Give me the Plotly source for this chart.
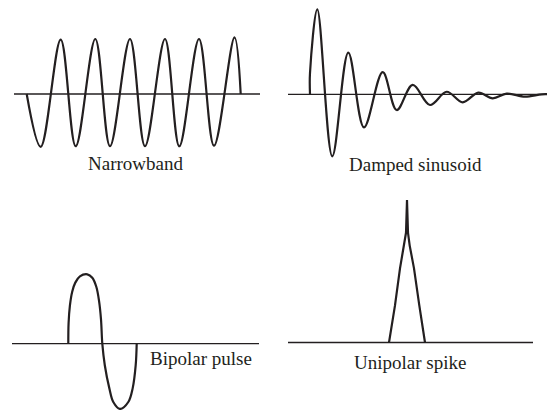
import plotly.graph_objects as go

# ---------------- data (time in arbitrary units, normalised amplitude) ----------------
narrow_t = [12.7, 26.7, 46.7, 61.7, 81.3, 96.0, 116.0, 131.0, 151.0, 165.3, 185.0, 200.0, 220.5, 226.7]
narrow_a = [0, -0.96, 0.99, -0.95, 1.0, -0.95, 1.0, -0.95, 1.0, -0.95, 1.0, -0.94, 1.03, 0]
narrow_len = 246

damped_t = [22.0, 22.0, 29.3, 44.3, 60.3, 76.0, 94.7, 108.7, 124.7, 142.0, 158.7, 174.7, 190.3, 204.7, 218.7, 237.0, 253.7, 262.0]
damped_a = [0, 0.25, 1.0, -0.73, 0.49, -0.39, 0.26, -0.185, 0.11, -0.126, 0.03, -0.094, 0.02, -0.047, 0.007, -0.028, 0.0, 0.0]
damped_len = 265

bipolar_t = [56.3, 56.6, 57.9, 60.2, 63.3, 67.9, 75.3, 80.3, 84.3, 87.0, 89.0, 90.3, 92.8, 97.3, 101.3, 108.0, 116.3, 120.7, 123.7, 124.7]
bipolar_a = [0, 0.30, 0.55, 0.75, 0.88, 0.97, 1.0, 0.95, 0.82, 0.62, 0.35, 0, -0.31, -0.64, -0.84, -0.94, -0.84, -0.64, -0.31, 0]
bipolar_len = 247

spike_t = [101.0, 107.0, 112.0, 116.0, 118.0, 119.0, 120.0, 121.7, 126.0, 131.3, 137.0]
spike_a = [0, 0.26, 0.52, 0.68, 0.77, 1.0, 0.77, 0.68, 0.52, 0.26, 0]
spike_len = 245

labels = ["Narrowband", "Damped sinusoid", "Bipolar pulse", "Unipolar spike"]

# ---------------- layout geometry (pixels of the 555x410 view) ----------------
OFF = 8                      # page body margin in the browser
W, H = 555 - OFF, 410 - OFF  # figure size so the figure exactly fills the view
INK = "#231f20"
panels = [
    dict(bx0=14, by=94.0, s=55.0, xd=(0, 277.5), yd=(0, 190), lx=135.5, ly=163.3),
    dict(bx0=288, by=94.3, s=85.0, xd=(277.5, 555), yd=(0, 190), lx=415.8, ly=164.5),
    dict(bx0=12, by=343.7, s=69.4, xd=(0, 277.5), yd=(190, 410), lx=200.5, ly=358.0),
    dict(bx0=288, by=342.5, s=142.5, xd=(277.5, 555), yd=(190, 410), lx=410.0, ly=362.5),
]
series = [
    (narrow_t, narrow_a, narrow_len, "spline"),
    (damped_t, damped_a, damped_len, "spline"),
    (bipolar_t, bipolar_a, bipolar_len, "spline"),
    (spike_t, spike_a, spike_len, "linear"),
]

fig = go.Figure()
layout = dict(
    width=W, height=H,
    margin=dict(l=0, r=0, t=0, b=0, pad=0),
    paper_bgcolor="white", plot_bgcolor="white",
    showlegend=False,
    annotations=[],
)


def fx(px):
    return (px - OFF) / W


def fy(py):
    return 1 - (py - OFF) / H


for i, (p, (t, a, length, shape)) in enumerate(zip(panels, series)):
    n = "" if i == 0 else str(i + 1)
    xa, ya = "x" + n, "y" + n
    fig.add_trace(go.Scatter(x=[0, length], y=[0, 0], mode="lines",
                             line=dict(color=INK, width=1.3),
                             xaxis=xa, yaxis=ya, hoverinfo="skip"))
    fig.add_trace(go.Scatter(x=t, y=a, mode="lines",
                             line=dict(color=INK, width=2.2, shape=shape),
                             xaxis=xa, yaxis=ya, hoverinfo="skip"))
    x0p, x1p = max(p["xd"][0], OFF), p["xd"][1]
    y0p, y1p = max(p["yd"][0], OFF), p["yd"][1]
    xr = [x0p - p["bx0"], x1p - p["bx0"]]
    yr = [-(y1p - p["by"]) / p["s"], (p["by"] - y0p) / p["s"]]
    axcommon = dict(visible=False, showgrid=False, zeroline=False, fixedrange=True)
    layout["xaxis" + n] = dict(domain=[fx(x0p), fx(x1p)], range=xr, anchor=ya, **axcommon)
    layout["yaxis" + n] = dict(domain=[fy(y1p), fy(y0p)], range=yr, anchor=xa, **axcommon)
    layout["annotations"].append(dict(
        text=labels[i], x=fx(p["lx"]), y=fy(p["ly"]), xref="paper", yref="paper",
        xanchor="center", yanchor="middle", showarrow=False,
        font=dict(family="Liberation Serif", size=19, color=INK)))

fig.update_layout(**layout)
fig.write_html("out.html")
